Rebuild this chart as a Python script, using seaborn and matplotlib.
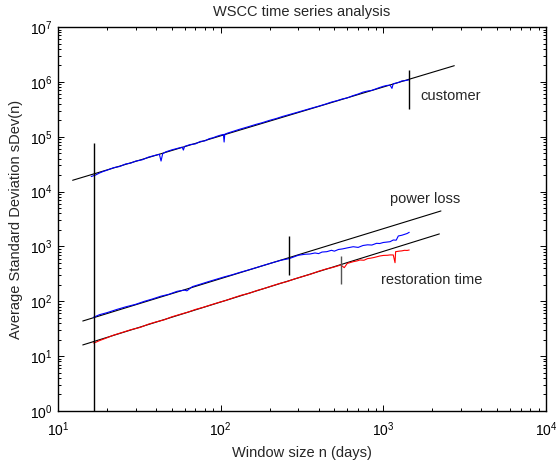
import numpy as np
import pandas as pd
import matplotlib
matplotlib.use("Agg")
import matplotlib.pyplot as plt
import seaborn as sns
from matplotlib.ticker import LogLocator, NullFormatter

# ---- data ----
cust_x = [16, 17, 18, 19, 20, 22, 24, 26, 28, 30, 33, 36, 39, 42, 43, 44, 46, 50, 55, 58, 59, 60,
          65, 70, 75, 80, 85, 90, 95, 100, 104, 105, 106, 110, 120, 130, 140, 150, 165, 180, 200,
          220, 240, 260, 280, 300, 330, 360, 400, 440, 480, 520, 560, 600, 650, 700, 750, 800,
          850, 900, 950, 1000, 1050, 1100, 1130, 1150, 1200, 1250, 1300, 1350, 1400, 1443]
cust_y = [18800, 20000, 21800, 23300, 24500, 27300, 28700, 31800, 33000, 35900, 38000, 42500,
          45300, 47800, 36000, 49000, 53000, 57500, 62000, 64500, 57000, 66500, 72000, 74000,
          82000, 84000, 92000, 96000, 102000, 107000, 110000, 80000, 111000, 116000, 126000,
          136000, 145000, 154000, 168000, 180000, 199000, 215000, 234000, 250000, 266000,
          282000, 306000, 330000, 360000, 392000, 428000, 455000, 488000, 510000, 560000,
          600000, 650000, 680000, 700000, 745000, 790000, 830000, 860000, 870000, 760000,
          925000, 950000, 985000, 1040000, 1050000, 1070000, 1090000]

ploss_x = [16.5, 18, 20, 23, 26, 30, 34, 38, 43, 48, 54, 60, 62, 67, 75, 84, 94, 105, 118, 132,
           148, 165, 185, 208, 235, 264, 280, 300, 330, 354, 380, 400, 420, 449, 480, 500, 530,
           560, 600, 653, 700, 750, 800, 850, 909, 950, 1000, 1050, 1100, 1151, 1200, 1236,
           1300, 1350, 1400, 1443]
ploss_y = [51, 57, 62, 71, 79, 88, 100, 110, 124, 134, 152, 160, 155, 185, 205, 228, 252, 278,
           305, 338, 372, 410, 455, 505, 560, 600, 640, 690, 720, 728, 760, 740, 790, 802, 850,
           820, 880, 900, 940, 988, 960, 1040, 1070, 1060, 1140, 1130, 1180, 1200, 1220, 1310,
           1300, 1550, 1600, 1660, 1720, 1810]

rest_x = [16.5, 17, 18, 20, 22, 25, 28, 32, 36, 40, 45, 50, 56, 63, 70, 78, 87, 97, 108, 120,
          134, 150, 167, 186, 207, 230, 256, 285, 318, 355, 395, 440, 490, 548, 575, 600, 653,
          690, 718, 760, 800, 828, 880, 953, 1000, 1060, 1100, 1151, 1180, 1190, 1250, 1300,
          1350, 1400, 1443]
rest_y = [17.4, 17.8, 19.2, 21.6, 24.2, 27.2, 30.3, 33.4, 38.3, 42, 46, 52, 57.5, 63.5, 71,
          77.5, 86, 95, 104, 116, 129, 140, 157, 172, 191, 211, 229, 256, 282, 310, 348, 384,
          415, 459, 410, 490, 527, 545, 566, 560, 600, 608, 630, 670, 685, 690, 700, 699, 505,
          802, 820, 830, 850, 845, 861]

# fitted power-law lines (end points)
cust_fit_x = [12.3, 2730]
cust_fit_y = [16070, 1.97e6]
ploss_fit_x = [14.2, 2260]
ploss_fit_y = [43.7, 4430]
rest_fit_x = [14.2, 2210]
rest_fit_y = [16.0, 1690]

# vertical markers: (x, y_low, y_high)
mark_x = [16.6, 1443, 264, 548]
mark_lo = [1, 3.16e5, 301, 207]
mark_hi = [77000, 1.64e6, 1550, 670]
mark_col = ['black', 'black', 'black', '#555555']

labels = ['customer', 'power loss', 'restoration time']
label_x = [1680, 1099, 961]
label_y = [552000, 7330, 244]

# ---- plotting ----
sns.set_style("ticks")
plt.rcParams['font.family'] = ['Liberation Sans', 'DejaVu Sans']
plt.rcParams['mathtext.fontset'] = 'custom'
plt.rcParams['mathtext.rm'] = 'Liberation Sans'

fig = plt.figure(figsize=(5.56, 4.63), dpi=100)
ax = fig.add_axes([58/556, 52/463, 488/556, 384/463])
ax.set_xscale('log')
ax.set_yscale('log')

for xs, ys in [(cust_fit_x, cust_fit_y), (ploss_fit_x, ploss_fit_y), (rest_fit_x, rest_fit_y)]:
    df = pd.DataFrame({'x': xs, 'y': ys})
    sns.lineplot(data=df, x='x', y='y', ax=ax, color='black', lw=0.8, estimator=None, sort=False,
                 zorder=2)

for xs, ys, c in [(cust_x, cust_y, '#0000ff'), (ploss_x, ploss_y, '#0000ff'), (rest_x, rest_y, '#ff0000')]:
    df = pd.DataFrame({'x': xs, 'y': ys})
    sns.lineplot(data=df, x='x', y='y', ax=ax, color=c, lw=0.8, estimator=None, sort=False,
                 zorder=3)

for mx, lo, hi, c in zip(mark_x, mark_lo, mark_hi, mark_col):
    ax.vlines(mx, lo, hi, color=c, lw=1.0, zorder=4)

for t, tx, ty in zip(labels, label_x, label_y):
    ax.text(tx, ty, t, va='center', ha='left', fontsize=10.5)

ax.set_xlim(10, 1e4)
ax.set_ylim(1, 1e7)
ax.xaxis.set_major_locator(LogLocator(base=10, numticks=20))
ax.yaxis.set_major_locator(LogLocator(base=10, numticks=20))
ax.xaxis.set_minor_locator(LogLocator(base=10, subs=np.arange(2, 10), numticks=200))
ax.yaxis.set_minor_locator(LogLocator(base=10, subs=np.arange(2, 10), numticks=200))
ax.xaxis.set_minor_formatter(NullFormatter())
ax.yaxis.set_minor_formatter(NullFormatter())

ax.tick_params(which='both', direction='in', top=True, right=True, width=0.7, colors='black',
               labelsize=10)
ax.tick_params(which='major', length=4)
ax.tick_params(which='minor', length=2)
ax.tick_params(axis='x', which='major', pad=7)
ax.tick_params(axis='y', which='major', pad=4)
for s in ax.spines.values():
    s.set_visible(True)
    s.set_color('black')
    s.set_linewidth(1.0)

ax.set_xlabel('Window size n (days)', fontsize=10.5, labelpad=5)
ax.set_ylabel('Average Standard Deviation sDev(n)', fontsize=10.5, labelpad=5)
ax.set_title('WSCC time series analysis', fontsize=10.5, pad=8)

fig.savefig('out.png', dpi=100)
